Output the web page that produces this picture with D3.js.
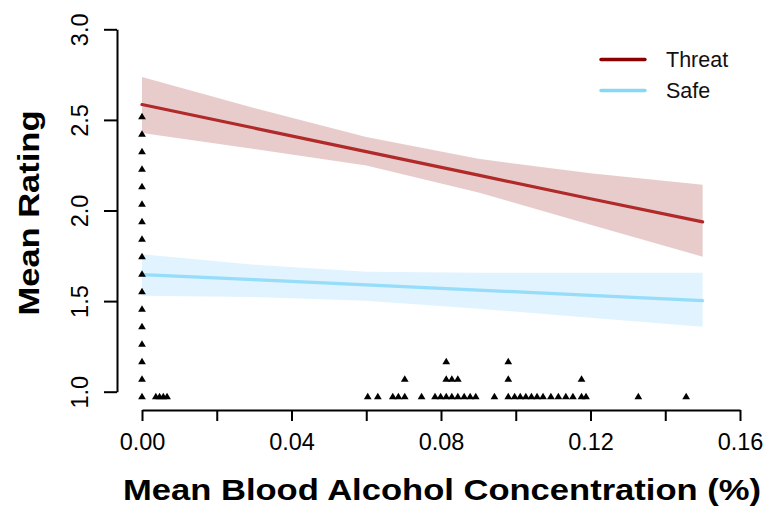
<!DOCTYPE html>
<html>
<head>
<meta charset="utf-8">
<script src="https://cdn.jsdelivr.net/npm/d3@7"></script>
<style>
  html, body { margin: 0; padding: 0; background: #fff; }
  svg { display: block; font-family: "Liberation Sans", Arial, sans-serif; }
</style>
</head>
<body>
<svg id="chart" width="770" height="510"></svg>
<script>
// Tick values
const bacTicks = [0, 0.02, 0.04, 0.06, 0.08, 0.10, 0.12, 0.14, 0.16];
const bacLabelled = [0, 0.04, 0.08, 0.12, 0.16];
const ratingTicks = [1.0, 1.5, 2.0, 2.5, 3.0];

// Fitted lines and confidence bands, evaluated at these BAC values
const bandBac = [0, 0.03, 0.06, 0.09, 0.12, 0.15];
const threatFit = [2.585, 2.455, 2.325, 2.195, 2.065, 1.937];
const threatLower = [2.428, 2.34, 2.248, 2.10, 1.922, 1.745];
const threatUpper = [2.737, 2.565, 2.405, 2.285, 2.205, 2.142];
const safeFit = [1.646, 1.618, 1.589, 1.561, 1.532, 1.503];
const safeLower = [1.530, 1.522, 1.502, 1.458, 1.408, 1.359];
const safeUpper = [1.758, 1.70, 1.662, 1.656, 1.656, 1.657];

// Participants' mean blood alcohol concentration (stacked rug along the bottom)
const participantBac = [
  0, 0, 0, 0, 0, 0, 0, 0, 0, 0, 0, 0, 0, 0, 0, 0, 0,
  0.0037, 0.0047, 0.0057, 0.0067,
  0.0604, 0.0631, 0.0671, 0.0686, 0.0703, 0.0703, 0.0748,
  0.0784, 0.0799, 0.0814, 0.0814, 0.0814, 0.0829, 0.0829, 0.0845, 0.0845,
  0.0862, 0.0878, 0.0893, 0.0943,
  0.0980, 0.0980, 0.0980, 0.0997, 0.1012, 0.1027, 0.1042, 0.1057, 0.1073,
  0.1094, 0.1114, 0.1134, 0.1153, 0.1176, 0.1176, 0.1188,
  0.1328, 0.1456
];

const seriesNames = ["Threat", "Safe"];
const lineColors = { Threat: "#8b0000", Safe: "#87d8f8" };
const bandColors = { Threat: "rgba(139,0,0,0.2)", Safe: "rgba(135,206,250,0.25)" };

const svg = d3.select("#chart");
const x = d3.scaleLinear().domain([0, 0.16]).range([142, 740]);
const y = d3.scaleLinear().domain([1, 3]).range([391.7, 29.3]);

const series = [
  { name: "Threat", fit: threatFit, lo: threatLower, hi: threatUpper },
  { name: "Safe", fit: safeFit, lo: safeLower, hi: safeUpper }
];

const area = d3.area()
  .x((d, i) => x(bandBac[i]))
  .y0((d) => y(d.lo))
  .y1((d) => y(d.hi));
const line = d3.line()
  .x((d, i) => x(bandBac[i]))
  .y((d) => y(d));

// Confidence bands
series.forEach((s) => {
  const pts = bandBac.map((b, i) => ({ lo: s.lo[i], hi: s.hi[i] }));
  svg.append("path")
    .attr("d", area(pts))
    .attr("fill", bandColors[s.name])
    .attr("stroke", "none");
});

// Fitted lines
series.forEach((s) => {
  svg.append("path")
    .attr("d", line(s.fit))
    .attr("fill", "none")
    .attr("stroke", s.name === "Threat" ? "#b02a2a" : lineColors[s.name])
    .attr("stroke-opacity", s.name === "Threat" ? 1 : 0.85)
    .attr("stroke-width", 3.2)
    .attr("stroke-linecap", "round");
});

// Stacked rug of participants: identical values pile upward
const rugBase = 0.97;     // rating level of the first row
const rugStep = 17.5;     // pixel gap between stacked rows
const seen = new Map();
const rug = participantBac.map((b) => {
  const k = seen.get(b) || 0;
  seen.set(b, k + 1);
  return { bac: b, level: k };
});
svg.append("g").selectAll("path")
  .data(rug)
  .join("path")
  .attr("d", d3.symbol(d3.symbolTriangle, 26))
  .attr("transform", (d) => `translate(${x(d.bac)},${y(rugBase) - d.level * rugStep})`)
  .attr("fill", "#000");

// X axis
const xAxis = svg.append("g")
  .attr("transform", "translate(0,410)")
  .call(d3.axisBottom(x)
    .tickValues(bacTicks)
    .tickSize(11)
    .tickSizeOuter(0)
    .tickPadding(12)
    .tickFormat((d) => bacLabelled.some((v) => Math.abs(v - d) < 1e-9) ? d3.format(".2f")(d) : ""));
xAxis.select(".domain").attr("stroke-width", 2);
xAxis.selectAll(".tick line").attr("stroke-width", 2);
xAxis.selectAll(".tick text")
  .attr("font-size", 23.5)
  .attr("font-family", "Liberation Sans, Arial, sans-serif")
  .attr("fill", "#000");

// Y axis with labels parallel to the axis
const yAxis = svg.append("g")
  .attr("transform", "translate(117,0)")
  .call(d3.axisLeft(y)
    .tickValues(ratingTicks)
    .tickSize(13)
    .tickSizeOuter(0)
    .tickFormat(d3.format(".1f")));
yAxis.select(".domain").attr("stroke-width", 2);
yAxis.selectAll(".tick line").attr("stroke-width", 2);
yAxis.selectAll(".tick text")
  .attr("x", null)
  .attr("dy", null)
  .attr("text-anchor", "middle")
  .attr("transform", "translate(-29,0) rotate(-90)")
  .attr("font-size", 23.5)
  .attr("font-family", "Liberation Sans, Arial, sans-serif")
  .attr("fill", "#000");

// Axis titles
svg.append("text")
  .attr("x", 442)
  .attr("y", 500)
  .attr("text-anchor", "middle")
  .attr("font-weight", "bold")
  .attr("font-size", 30)
  .attr("textLength", 638)
  .attr("lengthAdjust", "spacingAndGlyphs")
  .text("Mean Blood Alcohol Concentration (%)");

svg.append("text")
  .attr("transform", "translate(39,213) rotate(-90)")
  .attr("text-anchor", "middle")
  .attr("font-weight", "bold")
  .attr("font-size", 30)
  .attr("textLength", 205)
  .attr("lengthAdjust", "spacingAndGlyphs")
  .text("Mean Rating");

// Legend
const legend = svg.append("g");
seriesNames.forEach((name, i) => {
  const ly = 59.5 + i * 31;
  legend.append("line")
    .attr("x1", 601).attr("x2", 645)
    .attr("y1", ly).attr("y2", ly)
    .attr("stroke", lineColors[name])
    .attr("stroke-width", 3.4)
    .attr("stroke-linecap", "round");
  legend.append("text")
    .attr("x", 666)
    .attr("y", ly + 7.5)
    .attr("font-size", 21.5)
    .attr("fill", "#111")
    .text(name);
});
</script>
</body>
</html>
